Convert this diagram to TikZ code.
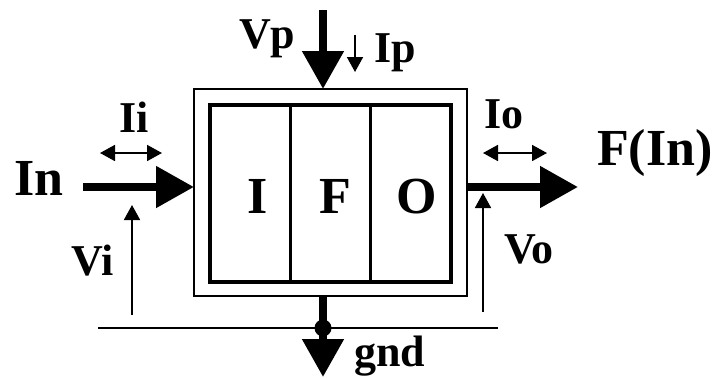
\documentclass[tikz,border=0pt]{standalone}
\usepackage{fontspec}
\setmainfont{Liberation Serif}
\usetikzlibrary{arrows.meta}
\begin{document}
\begin{tikzpicture}[x=1pt,y=-1pt,
  big/.style={font=\fontsize{52}{52}\selectfont\bfseries, inner sep=0pt, anchor=base west},
  bigc/.style={font=\fontsize{52}{52}\selectfont\bfseries, inner sep=0pt, anchor=base},
  small/.style={font=\fontsize{44}{44}\selectfont\bfseries, inner sep=0pt, anchor=base west},
  boldarrow/.style={line width=8pt, -{Triangle[length=38pt,width=40pt]}},
  thinarrow/.style={line width=1.8pt, -{Triangle[length=15pt,width=16pt]}},
  dblarrow/.style={line width=1.8pt, {Triangle[length=15pt,width=16pt]}-{Triangle[length=15pt,width=16pt]}},
  cell/.style={draw, line width=3pt, minimum width=80.33pt, minimum height=177pt, inner sep=0pt, outer sep=0pt}]
\useasboundingbox (0,0) rectangle (715,378);
% boxes
\node[draw, line width=2pt, minimum width=273pt, minimum height=207pt, outer sep=0pt] (outer) at (330.5,192.5) {};
\node[cell] (cellI) at (250.17,193.5) {};
\node[cell] (cellF) at (330.5,193.5) {};
\node[cell] (cellO) at (410.83,193.5) {};
\node[draw, line width=4pt, minimum width=241pt, minimum height=177pt, outer sep=0pt] (inner) at (330.5,193.5) {};
\node[bigc] (tI) at (257.5,213) {I};
\node[bigc] (tF) at (335,213) {F};
\node[bigc] (tO) at (417,213) {O};
% labels
\node[big] (lIn) at (14,195) {In};
\node[big] (lF) at (597,165) {F(In)};
\node[small] (lIi) at (119,132) {Ii};
\node[small] (lIo) at (484,128) {Io};
\node[small] (lVi) at (71,275) {Vi};
\node[small] (lVo) at (504,263) {Vo};
\node[small] (lVp) at (239,48) {Vp};
\node[small] (lIp) at (374,62) {Ip};
\node[small] (lgnd) at (354,366) {gnd};
% coordinates
\coordinate (inS) at (83,187);
\coordinate (inE) at (outer.west |- inS);
\coordinate (outS) at (outer.east |- inS);
\coordinate (outE) at (578,187);
\coordinate (vpS) at (323,10);
\coordinate (vpE) at (vpS |- outer.north);
\coordinate (gS) at (vpS |- outer.south);
\coordinate (gE) at (323,377);
\coordinate (dot) at (323,328);
\coordinate (gL) at (98,328);
\coordinate (gR) at (498,328);
\coordinate (ipS) at (355,35);
\coordinate (ipE) at (355,72);
\coordinate (iiL) at (100,153);
\coordinate (iiR) at (162,153);
\coordinate (ioL) at (483,153);
\coordinate (ioR) at (547,153);
\coordinate (viS) at (132,315);
\coordinate (viE) at (132,205);
\coordinate (voS) at (483,312);
\coordinate (voE) at (483,193);
% arrows
\draw[boldarrow] (inS) -- (inE);
\draw[boldarrow] (outS) -- (outE);
\draw[boldarrow] (vpS) -- (vpE);
\draw[boldarrow] (gS) -- (gE);
\draw[line width=1.8pt] (gL) -- (gR);
\fill (dot) circle[radius=8.5pt];
\draw[thinarrow] (ipS) -- (ipE);
\draw[dblarrow] (iiL) -- (iiR);
\draw[dblarrow] (ioL) -- (ioR);
\draw[thinarrow] (viS) -- (viE);
\draw[thinarrow] (voS) -- (voE);
\end{tikzpicture}
\end{document}
